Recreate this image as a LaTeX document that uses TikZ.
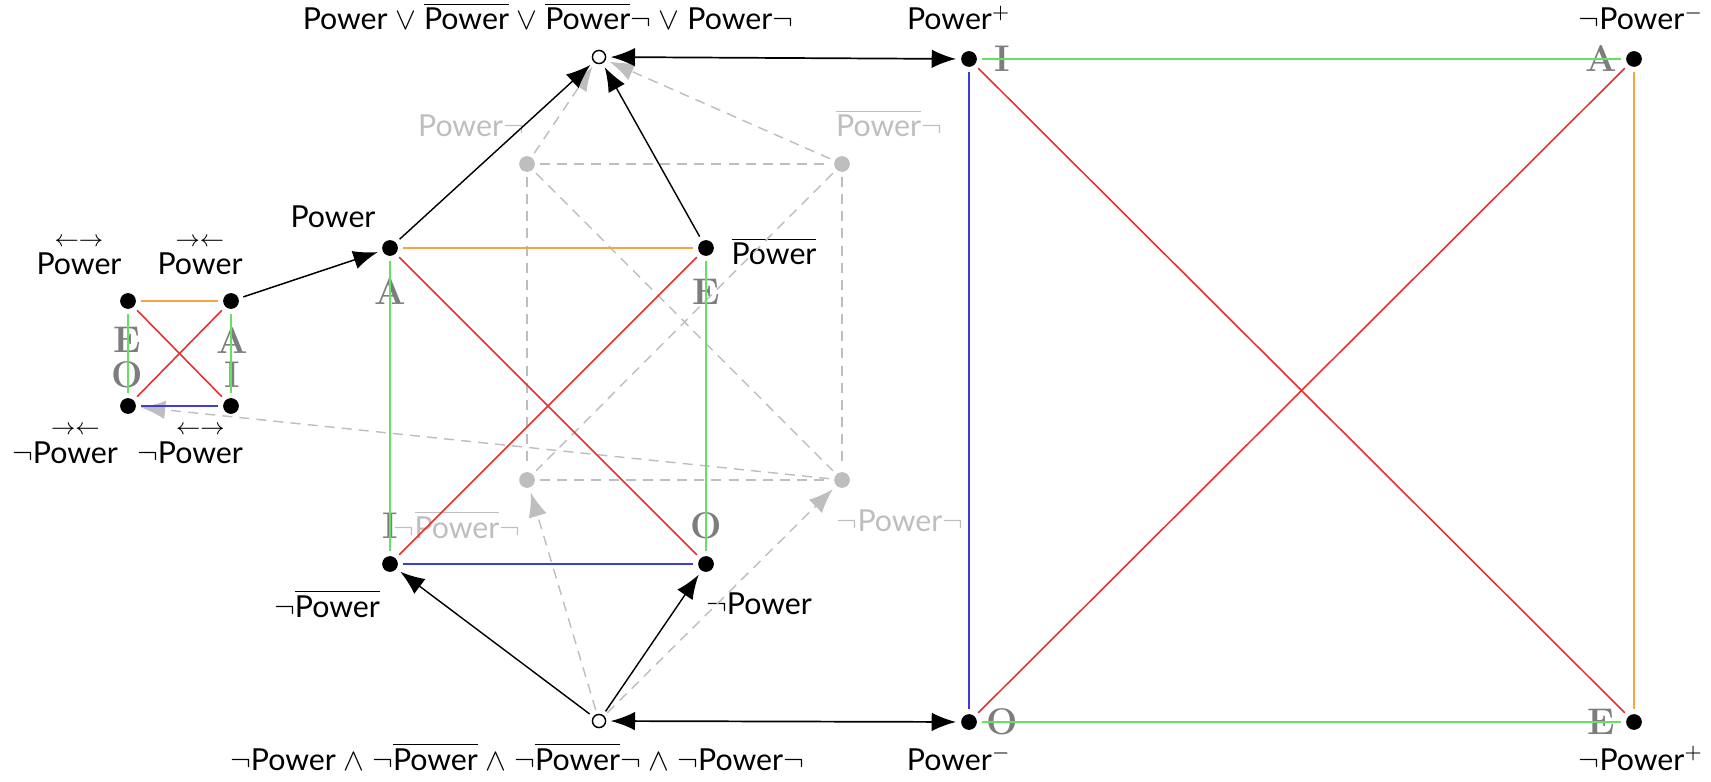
\documentclass[tikz,border=0pt]{standalone}
\usepackage{fontspec}
\newfontfamily\lato{Lato}
\usetikzlibrary{arrows.meta}
\definecolor{cgreen}{RGB}{100,225,100}
\definecolor{corange}{RGB}{245,165,70}
\definecolor{cred}{RGB}{235,45,45}
\definecolor{cblue}{RGB}{60,60,215}
\definecolor{lgray}{RGB}{190,190,190}
\definecolor{lettergray}{RGB}{125,125,125}
\newcommand{\ol}[1]{$\overline{\hbox{#1}}$}
\newcommand{\ovarr}[2]{\begin{tabular}[b]{@{}c@{}}\fontsize{8}{8}\selectfont$#1$\\[-2pt]#2\end{tabular}}
\begin{document}
\begin{tikzpicture}[x=0.35pt,y=-0.35pt,
  dot/.style={circle,fill=black,inner sep=0pt,minimum size=5.5pt,outer sep=1.8pt},
  gdot/.style={dot,fill=lgray},
  odot/.style={circle,draw=black,fill=white,line width=0.5pt,inner sep=0pt,minimum size=4.6pt,outer sep=1.8pt},
  lbl/.style={font=\lato\fontsize{10.6}{12}\selectfont,inner sep=0pt,anchor=base},
  glbl/.style={lbl,text=lgray},
  ltr/.style={font=\fontsize{13}{15}\selectfont\bfseries,text=lettergray,inner sep=0pt},
  ln/.style={line width=0.55pt},
  thickg/.style={line width=1pt,cgreen},
  barr/.style={-{Latex[length=8.5pt,width=6.5pt]},line width=0.5pt,black},
  dbarr/.style={{Latex[length=8.5pt,width=6.5pt]}-{Latex[length=8.5pt,width=6.5pt]},line width=0.6pt,black},
  gd/.style={lgray,line width=0.5pt,dash pattern=on 3.5pt off 2.5pt},
  garr/.style={gd,-{Latex[length=8.5pt,width=6.5pt]}},
]
\useasboundingbox (0,0) rectangle (1711,782);

% letters
\node[ltr] (lsE) at (127,340) {E};
\node[ltr] (lsO) at (127,375) {O};
\node[ltr] (lsA) at (232,340) {A};
\node[ltr] (lsI) at (232,375) {I};
\node[ltr] (lmA) at (390,292) {A};
\node[ltr] (lmE) at (706,292) {E};
\node[ltr] (lmI) at (390,526) {I};
\node[ltr] (lmO) at (706,526) {O};
\node[ltr] (lrI) at (1002,59) {I};
\node[ltr] (lrA) at (1601,59) {A};
\node[ltr] (lrO) at (1002,722) {O};
\node[ltr] (lrE) at (1601,722) {E};

% dots
\node[dot] (sE) at (128,301) {};
\node[dot] (sA) at (231,301) {};
\node[dot] (sO) at (128,406) {};
\node[dot] (sI) at (231,406) {};
\node[dot] (mA) at (390,248) {};
\node[dot] (mE) at (706,248) {};
\node[dot] (mI) at (390,564) {};
\node[dot] (mO) at (706,564) {};
\node[gdot] (gTL) at (527,164) {};
\node[gdot] (gTR) at (842,164) {};
\node[gdot] (gBL) at (527,480) {};
\node[gdot] (gBR) at (842,480) {};
\node[odot] (top) at (599,57) {};
\node[odot] (bot) at (599,721) {};
\node[dot] (rI) at (969,59) {};
\node[dot] (rA) at (1634,59) {};
\node[dot] (rO) at (969,722) {};
\node[dot] (rE) at (1634,722) {};

% labels
\node[lbl] (ltop) at (548,30) {Power $\vee$ \ol{Power} $\vee$ \ol{Power}$\neg$ $\vee$ Power$\neg$};
\node[lbl] (lbot) at (517,770) {$\neg$Power $\wedge$ $\neg$\ol{Power} $\wedge$ $\neg$\ol{Power}$\neg$ $\wedge$ $\neg$Power$\neg$};
\node[lbl] (trI) at (959,30) {Power$^+$};
\node[lbl] (trA) at (1641,30) {$\neg$Power$^-$};
\node[lbl] (trO) at (959,770) {Power$^-$};
\node[lbl] (trE) at (1641,770) {$\neg$Power$^+$};
\node[lbl] (tmA) at (333,228) {Power};
\node[lbl] (tmE) at (774,265) {\ol{Power}};
\node[lbl] (tmI) at (327,617) {$\neg$\ol{Power}};
\node[lbl] (tmO) at (759,614) {$\neg$Power};
\node[glbl] (tgTL) at (471,137) {Power$\neg$};
\node[glbl] (tgTR) at (889,137) {\ol{Power}$\neg$};
\node[glbl] (tgBL) at (457,538) {$\neg$\ol{Power}$\neg$};
\node[glbl] (tgBR) at (900,531) {$\neg$Power$\neg$};
\node[lbl] (tsE) at (79,275) {\ovarr{\leftarrow\rightarrow}{Power}};
\node[lbl] (tsA) at (200,275) {\ovarr{\rightarrow\leftarrow}{Power}};
\node[lbl] (tsO) at (65,463) {$\neg$\ovarr{\rightarrow\leftarrow}{Power}};
\node[lbl] (tsI) at (190,463) {$\neg$\ovarr{\leftarrow\rightarrow}{Power}};

% gray dashed cube
\draw[gd] (gTL) -- (gTR);
\draw[gd] (gTL) -- (gBL);
\draw[gd] (gTR) -- (gBR);
\draw[gd] (gBL) -- (gBR);
\draw[gd] (gTL) -- (gBR);
\draw[gd] (gTR) -- (gBL);
\draw[garr] (gTL) -- (top);
\draw[garr] (gTR) -- (top);
\draw[garr] (bot) -- (gBL);
\draw[garr] (bot) -- (gBR);
\draw[garr] (gBR) -- (sO);

% small square
\draw[ln,corange] (sE) -- (sA);
\draw[ln,cgreen] (sE) -- (sO);
\draw[ln,cgreen] (sA) -- (sI);
\draw[ln,cblue] (sO) -- (sI);
\draw[ln,cred] (sE) -- (sI);
\draw[ln,cred] (sA) -- (sO);

% middle square
\draw[ln,corange] (mA) -- (mE);
\draw[ln,cgreen] (mA) -- (mI);
\draw[ln,cgreen] (mE) -- (mO);
\draw[ln,cblue] (mI) -- (mO);
\draw[ln,cred] (mA) -- (mO);
\draw[ln,cred] (mE) -- (mI);

% right square
\draw[thickg] (rI) -- (rA);
\draw[thickg] (rO) -- (rE);
\draw[ln,cblue] (rI) -- (rO);
\draw[ln,corange] (rA) -- (rE);
\draw[ln,cred] (rI) -- (rE);
\draw[ln,cred] (rA) -- (rO);

% black arrows
\draw[barr] (sA) -- (mA);
\draw[barr] (mA) -- (top);
\draw[barr] (mE) -- (top);
\draw[barr] (bot) -- (mI);
\draw[barr] (bot) -- (mO);
\draw[dbarr] (top) -- (rI);
\draw[dbarr] (bot) -- (rO);
\end{tikzpicture}
\end{document}
